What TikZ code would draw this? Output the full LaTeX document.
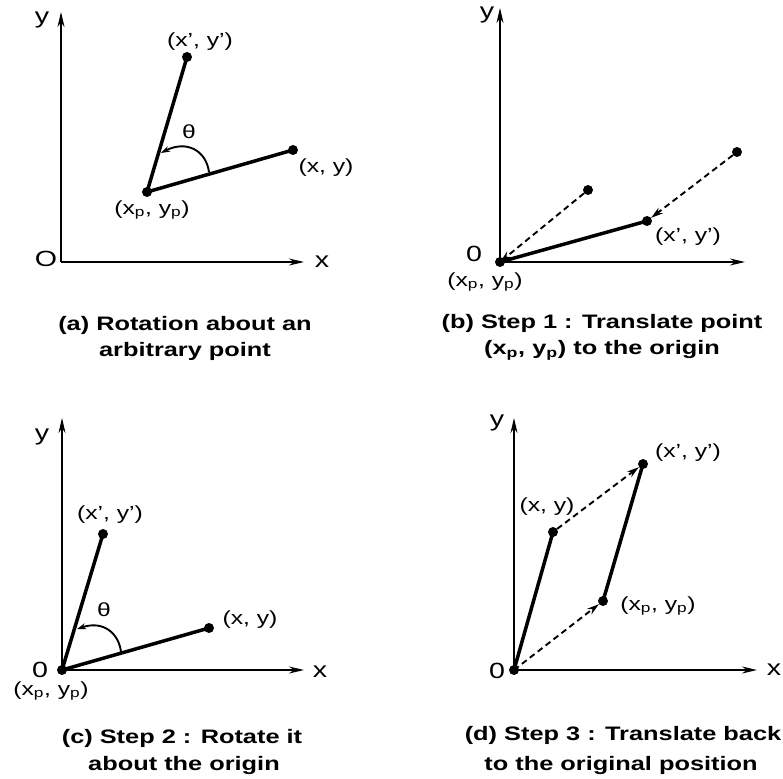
\documentclass[tikz,border=0pt]{standalone}
\usepackage{fontspec}
\usepackage{graphicx}
\setmainfont{Liberation Sans}
\usetikzlibrary{arrows.meta}
\newcommand{\st}[1]{\scalebox{1.3}[1]{#1}}
\tikzset{
  dot/.style={circle,fill=black,inner sep=0pt,minimum size=10pt},
  axis/.style={line width=1.9pt,-{Stealth[length=15pt,width=7pt]}},
  vec/.style={line width=3.5pt},
  dvec/.style={line width=1.9pt,dash pattern=on 6pt off 4pt,-{Stealth[length=12pt,width=7pt]}},
  lbl/.style={inner sep=0pt,font=\fontsize{19}{21}\selectfont},
  axl/.style={inner sep=0pt,font=\fontsize{22}{24}\selectfont},
  captext/.style={inner sep=0pt,font=\fontsize{19.5}{21}\selectfont\bfseries},
  ang/.style={line width=1.9pt,-{Stealth[length=9pt,width=6pt]}}
}
\begin{document}
\begin{tikzpicture}[x=1pt,y=-1pt]
\useasboundingbox[fill=white] (0,0) rectangle (783,778);
% ---------- (a)
\coordinate (aO) at (61,262);
\coordinate (aY) at (61,12);
\coordinate (aX) at (304,262);
\draw[axis] (aO) -- (aY);
\draw[axis] (aO) -- (aX);
\node[dot] (aP) at (147,192) {};
\node[dot] (aQ) at (187,57) {};
\node[dot] (aR) at (293,150) {};
\draw[vec] (aP.center) -- (aQ.center);
\draw[vec] (aP.center) -- (aR.center);
\coordinate (aA1) at (209,172);
\coordinate (aA2) at (161,153);
\draw[ang] (aA1) .. controls (206,150) and (186,140) .. (aA2);
\node[axl] (ay) at (42,20) {\st{y}};
\node[axl] (ao) at (46,259) {\st{O}};
\node[axl] (ax) at (322,262) {\st{x}};
\node[lbl] (aql) at (200,42) {\st{(x', y')}};
\node[lbl] (ath) at (189,132) {\st{θ}};
\node[lbl] (arl) at (326,168) {\st{(x, y)}};
\node[lbl] (apl) at (152,210) {\st{(x\textsubscript{p}, y\textsubscript{p})}};
\node[captext] (ac1) at (185,325) {\st{(a) Rotation about an}};
\node[captext] (ac2) at (185,351) {\st{arbitrary point}};
% ---------- (b)
\coordinate (bO) at (500,262);
\coordinate (bY) at (500,8);
\coordinate (bX) at (745,262);
\draw[axis] (bO) -- (bY);
\draw[axis] (bO) -- (bX);
\node[dot] (bP) at (500,262) {};
\node[dot] (bA) at (588,190) {};
\node[dot] (bB) at (737,152) {};
\node[dot] (bQ) at (647,221) {};
\draw[vec] (bP.center) -- (bQ.center);
\draw[dvec] (bA) -- (bP.center);
\draw[dvec] (bB) -- (bQ);
\node[axl] (by) at (487,15) {\st{y}};
\node[axl] (bo) at (474,254) {\st{0}};
\node[lbl] (bpl) at (485,282) {\st{(x\textsubscript{p}, y\textsubscript{p})}};
\node[lbl] (bql) at (688,237) {\st{(x', y')}};
\node[captext] (bc1) at (602,323) {\st{(b) Step 1 : Translate point}};
\node[captext] (bc2) at (602,350) {\st{(x\textsubscript{p}, y\textsubscript{p}) to the origin}};
% ---------- (c)
\coordinate (cO) at (62,670);
\coordinate (cY) at (62,418);
\coordinate (cX) at (304,670);
\draw[axis] (cO) -- (cY);
\draw[axis] (cO) -- (cX);
\node[dot] (cP) at (62,670) {};
\node[dot] (cQ) at (103,534) {};
\node[dot] (cR) at (209,628) {};
\draw[vec] (cP.center) -- (cQ.center);
\draw[vec] (cP.center) -- (cR.center);
\coordinate (cA1) at (121,652);
\coordinate (cA2) at (77,629);
\draw[ang] (cA1) .. controls (119,634) and (104,620) .. (cA2);
\node[axl] (cy) at (42,437) {\st{y}};
\node[axl] (cx) at (320,672) {\st{x}};
\node[axl] (co) at (40,670) {\st{0}};
\node[lbl] (cpl) at (51,691) {\st{(x\textsubscript{p}, y\textsubscript{p})}};
\node[lbl] (cql) at (110,515) {\st{(x', y')}};
\node[lbl] (cth) at (104,610) {\st{θ}};
\node[lbl] (crl) at (250,620) {\st{(x, y)}};
\node[captext] (cc1) at (182,738) {\st{(c) Step 2 : Rotate it}};
\node[captext] (cc2) at (184,765) {\st{about the origin}};
% ---------- (d)
\coordinate (dO) at (514,670);
\coordinate (dY) at (514,418);
\coordinate (dX) at (757,670);
\draw[axis] (dO) -- (dY);
\draw[axis] (dO) -- (dX);
\node[dot] (dP) at (514,670) {};
\node[dot] (dA) at (553,532) {};
\node[dot] (dB) at (643,464) {};
\node[dot] (dC) at (603,601) {};
\draw[vec] (dP.center) -- (dA.center);
\draw[vec] (dC.center) -- (dB.center);
\draw[dvec] (dP.center) -- (dC);
\draw[dvec] (dA) -- (dB);
\node[axl] (dy) at (497,423) {\st{y}};
\node[axl] (dx) at (774,670) {\st{x}};
\node[axl] (do) at (497,671) {\st{0}};
\node[lbl] (dal) at (547,507) {\st{(x, y)}};
\node[lbl] (dbl) at (688,453) {\st{(x', y')}};
\node[lbl] (dcl) at (658,606) {\st{(x\textsubscript{p}, y\textsubscript{p})}};
\node[captext] (dc1) at (623,735) {\st{(d) Step 3 : Translate back}};
\node[captext] (dc2) at (621,765) {\st{to the original position}};
\end{tikzpicture}
\end{document}
